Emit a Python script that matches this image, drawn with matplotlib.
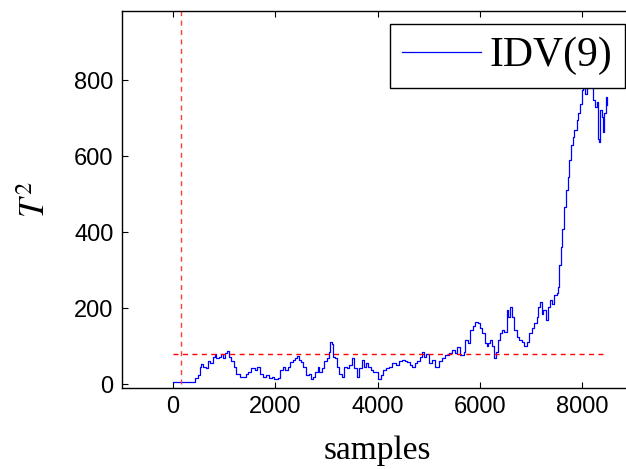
import matplotlib
matplotlib.use("Agg")
import matplotlib.pyplot as plt

plt.rcParams["mathtext.fontset"] = "stix"
plt.rcParams["font.family"] = ["Liberation Sans", "DejaVu Sans"]

# T^2 statistic for fault IDV(9), sampled along the run
samples = [
    0, 390, 423, 488, 520, 553, 585, 637, 683, 728, 780, 813, 845, 898, 943,
    976, 1021, 1054, 1086, 1138, 1190, 1236, 1301, 1366, 1418, 1463, 1528,
    1594, 1639, 1691, 1756, 1821, 1886, 1938, 1984, 2049, 2094, 2146, 2198,
    2244, 2289, 2341, 2387, 2419, 2458, 2504, 2550, 2602, 2654, 2699, 2732,
    2784, 2829, 2862, 2914, 2959, 3005, 3057, 3076, 3109, 3135, 3174, 3207,
    3252, 3298, 3350, 3395, 3447, 3493, 3545, 3590, 3642, 3688, 3727, 3772,
    3818, 3870, 3915, 3967, 4019, 4065, 4111, 4163, 4228, 4293, 4358, 4423,
    4488, 4533, 4585, 4637, 4683, 4728, 4780, 4826, 4865, 4910, 4956,
    5002, 5067, 5132, 5197, 5262, 5327, 5392, 5457, 5522, 5554, 5620, 5685,
    5717, 5769, 5815, 5867, 5912, 5964, 6010, 6042, 6094, 6140, 6172, 6205,
    6237, 6283, 6315, 6354, 6400, 6445, 6484, 6530, 6562, 6595, 6640, 6679,
    6725, 6770, 6822, 6868, 6920, 6965, 7017, 7069, 7115, 7147, 7180, 7213,
    7245, 7291, 7330, 7376, 7421, 7460, 7506, 7538, 7551, 7584, 7616, 7655,
    7681, 7720, 7753, 7779, 7818, 7850, 7896, 7928, 7961, 7994, 8026, 8059,
    8091, 8120, 8150, 8189, 8221, 8254, 8286, 8306, 8319, 8338, 8351, 8384,
    8416, 8429, 8462, 8481, 8494,
]
t2 = [
    5, 5, 16, 24, 46, 52, 46, 42, 60, 55, 72, 79, 68, 72, 79,
    68, 82, 88, 72, 60, 46, 28, 20, 20, 26, 33, 42,
    38, 44, 28, 20, 24, 17, 20, 14, 17, 38, 44, 38,
    44, 58, 64, 68, 75, 64, 58, 44, 24, 28, 15, 20,
    33, 46, 33, 42, 60, 68, 86, 112, 105, 72, 70, 46,
    28, 20, 46, 42, 50, 68, 42, 20, 42, 64, 46, 55,
    46, 38, 33, 31, 15, 24, 38, 42, 46, 55, 50, 60,
    64, 60, 58, 50, 46, 55, 60, 72, 84, 72, 79,
    55, 64, 45, 60, 68, 77, 83, 90, 83, 99, 77, 86,
    117, 108, 143, 152, 165, 161, 148, 135, 108, 100, 108, 117,
    100, 68, 86, 117, 134, 143, 138, 195, 178, 204, 178, 143,
    125, 117, 112, 100, 112, 134, 148, 161, 178, 204, 217, 186,
    195, 169, 204, 221, 212, 234, 239, 256, 313, 361, 409, 467,
    511, 546, 590, 630, 652, 669, 696, 713, 739, 774, 779, 765,
    779, 800, 795, 779, 748, 730, 744, 704, 647, 638, 721, 704,
    665, 713, 739, 757, 735,
]

control_limit = 80
limit_span = [0, 8500]
fault_onset = 160

xticks = [0, 2000, 4000, 6000, 8000]
yticks = [0, 200, 400, 600, 800]

fig = plt.figure(figsize=(6.26, 4.69), dpi=100)
ax = fig.add_axes([122 / 626, 81 / 469, 511 / 626, 376.7 / 469])

ax.plot(samples, t2, color="#0000ff", lw=0.9, drawstyle="steps-post",
        label="IDV(9)")
ax.plot(limit_span, [control_limit, control_limit], color="#ff0000",
        lw=1.0, ls=(0, (3.6, 3.2)))
ax.plot([fault_onset, fault_onset], [0, 1000], color="#ff3a3a",
        lw=1.0, ls=(0, (3.6, 3.2)))

ax.set_xlim(-1000, 9000)
ax.set_ylim(-10, 982)
ax.set_xticks(xticks)
ax.set_yticks(yticks)
ax.tick_params(direction="in", length=4, width=0.8, top=True, right=True,
               labelsize=17, pad=6)
for s in ax.spines.values():
    s.set_linewidth(1.0)

ax.set_xlabel("samples", fontfamily="Liberation Serif", fontsize=24,
              labelpad=12)
ax.set_ylabel(r"$T^2$", fontsize=25, labelpad=16)

leg = ax.legend(loc="upper right", bbox_to_anchor=(0.984, 0.9655),
                borderaxespad=0, prop={"family": "Liberation Serif",
                                       "size": 30},
                fancybox=False, edgecolor="k", framealpha=1,
                handlelength=1.9, handletextpad=0.2, borderpad=0.3)
leg.get_frame().set_linewidth(1.0)

fig.savefig("out.png", dpi=100)
